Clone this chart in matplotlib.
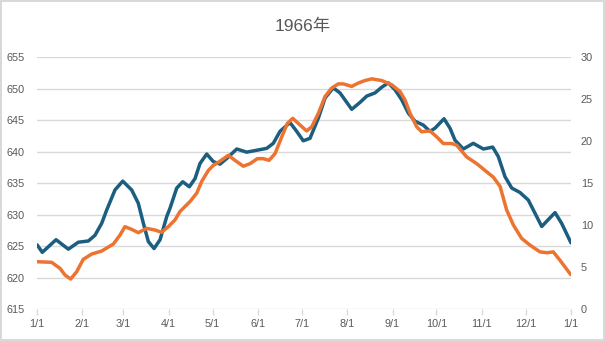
import numpy as np
import pandas as pd
import matplotlib
matplotlib.use("Agg")
import matplotlib.pyplot as plt
import matplotlib.dates as mdates

plt.rcParams['font.family'] = ['Liberation Sans', 'Noto Sans CJK SC', 'DejaVu Sans']

# Days since 1 Jan 1966 and the readings for each series
blue_day = [0, 3.6, 13, 21.4, 28.2, 35.1, 39.6, 44.2, 47.6, 53.3, 58.6, 64.7, 69.2, 72.7,
            76.1, 80, 84.1, 88.7, 90.9, 95.5, 99.6, 104.1, 108, 111.4, 116, 120.5, 125.1,
            129.7, 136.5, 143.3, 150.2, 157, 161.5, 166.1, 172.9, 177.5, 182, 186.6, 192.3,
            196.9, 202.5, 207.1, 215.1, 220.8, 225.4, 231, 235.6, 240.1, 244.7, 249.3, 253.8,
            258.4, 264, 268.6, 272, 278.2, 282.3, 285.7, 291.4, 298.2, 305.1, 311.5, 315.3,
            319.9, 324.5, 330.1, 335.8, 340.4, 345, 349.5, 354.1, 358.6, 365]
blue_val = [625.2, 624.0, 626.0, 624.5, 625.6, 625.8, 626.7, 628.6, 630.7, 633.9, 635.3,
            633.9, 631.8, 628.6, 625.7, 624.6, 626.0, 629.7, 631.0, 634.2, 635.2, 634.4,
            635.7, 638.1, 639.6, 638.4, 638.0, 638.9, 640.4, 639.9, 640.2, 640.5, 641.3,
            643.2, 644.6, 643.2, 641.7, 642.1, 645.3, 648.5, 650.1, 649.3, 646.7, 647.8,
            648.8, 649.3, 650.2, 650.9, 649.8, 648.2, 646.1, 644.8, 644.2, 643.2, 643.7,
            645.2, 643.7, 641.8, 640.4, 641.3, 640.4, 640.7, 639.2, 636.0, 634.2, 633.5,
            632.3, 630.2, 628.1, 629.2, 630.3, 628.6, 625.5]

orange_day = [0, 10, 15.7, 19.1, 23, 27.1, 31.6, 37.4, 44.2, 52.2, 56.7, 60.1, 64.7, 69.2,
              75, 80.7, 85.2, 89.7, 94.3, 97.7, 104.6, 109.2, 112.6, 117.1, 120.5, 125.1,
              130.8, 135.3, 141, 145.6, 150.6, 154.7, 158.6, 162.7, 167.3, 171.1, 174.8,
              179.8, 184.3, 187.8, 192.3, 196.9, 201.4, 205.9, 209.4, 215.1, 219.6, 224.2,
              228.8, 235.6, 242.4, 248.1, 251.5, 255, 259.5, 262.9, 268.6, 273.2, 277.7,
              283.5, 286.9, 293.7, 300.6, 306.2, 311.9, 316.5, 321, 325.6, 331.3, 337,
              343.8, 348.4, 352.9, 357.5, 364.8]
orange_val = [5.63, 5.56, 4.84, 4.05, 3.57, 4.44, 5.91, 6.55, 6.9, 7.74, 8.8, 9.8, 9.48,
              9.09, 9.6, 9.4, 9.13, 9.8, 10.6, 11.6, 12.8, 13.8, 15.2, 16.5, 17.1, 17.6,
              18.3, 17.7, 17.0, 17.3, 17.9, 17.9, 17.7, 18.5, 20.5, 22.1, 22.7, 21.9, 21.2,
              21.7, 23.3, 25.3, 26.3, 26.8, 26.8, 26.5, 26.9, 27.2, 27.4, 27.2, 26.7, 25.9,
              24.9, 23.3, 21.7, 21.1, 21.2, 20.5, 19.7, 19.7, 19.5, 18.1, 17.3, 16.5, 15.7,
              14.6, 11.8, 10.0, 8.4, 7.6, 6.8, 6.7, 6.8, 5.8, 4.1]

left_ticks = [615, 620, 625, 630, 635, 640, 645, 650, 655]
right_ticks = [0, 5, 10, 15, 20, 25, 30]

start = pd.Timestamp('1966-01-01')
blue_t = start + pd.to_timedelta(blue_day, unit='D')
orange_t = start + pd.to_timedelta(orange_day, unit='D')
month_ticks = pd.date_range('1966-01-01', '1967-01-01', freq='MS')

grid_c = '#d9d9d9'
text_c = '#595959'

fig = plt.figure(figsize=(6.05, 3.41), dpi=100, edgecolor=grid_c, linewidth=1.5)
ax = fig.add_axes([0.0612, 0.0938, 0.8826, 0.739])
ax2 = ax.twinx()

ax.plot(blue_t, blue_val, color='#1b5e80', lw=2.5, solid_joinstyle='round', solid_capstyle='round', zorder=3)
ax2.plot(orange_t, orange_val, color='#ed7331', lw=2.5, solid_joinstyle='round', solid_capstyle='round', zorder=3)

ax.set_ylim(615, 655)
ax.set_yticks(left_ticks)
ax2.set_ylim(0, 30)
ax2.set_yticks(right_ticks)
ax.set_xlim(month_ticks[0], month_ticks[-1])
ax.set_xticks(month_ticks)
ax.xaxis.set_major_formatter(mdates.DateFormatter('%-m/%-d'))

ax.grid(axis='y', color=grid_c, lw=1)
ax.set_axisbelow(True)
for a in (ax, ax2):
    for s in a.spines.values():
        s.set_visible(False)
ax.tick_params(axis='y', length=0, pad=9, labelsize=7.8, labelcolor=text_c)
ax2.tick_params(axis='y', length=0, pad=7, labelsize=7.8, labelcolor=text_c)
ax.tick_params(axis='x', length=4, width=1, color=grid_c, pad=3, labelsize=7.8, labelcolor=text_c)

fig.text(0.5, 1 - 26 / 341, '1966年', ha='center', va='center', fontsize=12.5, color=text_c)

fig.savefig('out.png', dpi=100)
